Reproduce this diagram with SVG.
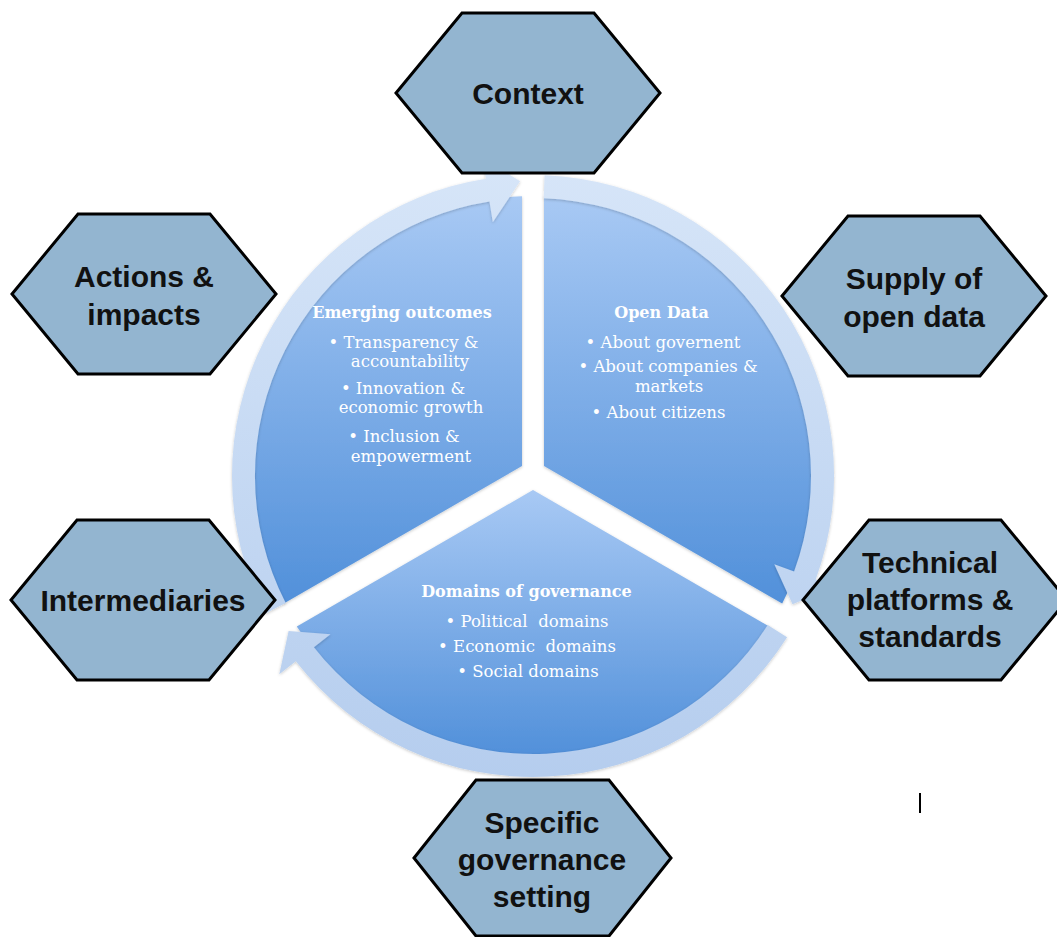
<svg xmlns="http://www.w3.org/2000/svg" width="1057" height="937" viewBox="0 0 1057 937">
  <defs>
    <linearGradient id="secGrad" x1="0" y1="0" x2="0" y2="1">
      <stop offset="0" stop-color="#a8c9f4"/>
      <stop offset="1" stop-color="#5190da"/>
    </linearGradient>
    <linearGradient id="ringGrad" gradientUnits="userSpaceOnUse" x1="0" y1="170" x2="0" y2="780">
      <stop offset="0" stop-color="#d6e5f8"/>
      <stop offset="1" stop-color="#b5cdee"/>
    </linearGradient>
    <filter id="shadow" x="-10%" y="-10%" width="120%" height="120%">
      <feDropShadow dx="0" dy="1" stdDeviation="1.5" flood-color="#000" flood-opacity="0.22"/>
    </filter>
    <style>
      .sector { fill: url(#secGrad); filter: url(#shadow); }
      .arrow { fill: url(#ringGrad); filter: url(#shadow); }
      .hex { fill: #93b5d0; stroke: #000; stroke-width: 3; stroke-linejoin: miter; }
      .hexText { font-family: "Liberation Sans", Arial, sans-serif; font-weight: bold; font-size: 30px; fill: #111; text-anchor: middle; }
      .head { font-family: "DejaVu Serif", "Liberation Serif", serif; font-weight: bold; font-size: 16px; fill: #fff; text-anchor: middle; }
      .item { font-family: "DejaVu Serif", "Liberation Serif", serif; font-size: 16.5px; fill: #fff; text-anchor: middle; }
    </style>
  </defs>
  <rect width="1057" height="937" fill="#fff"/>

  <!-- Cycle segments -->
  <g id="node-emerging-outcomes">
    <path class="sector" d="M522,466 L522,196.2 A280,280 0 0 0 283.8,603.6 Z"/>
  </g>
  <g id="node-open-data">
    <path class="sector" d="M544,466 L544,196.2 A280,280 0 0 1 782.2,603.6 Z"/>
  </g>
  <g id="node-domains-of-governance">
    <path class="sector" d="M533,490 L769.2,626.4 A280,280 0 0 1 296.8,626.4 Z"/>
  </g>

  <!-- Circular arrows -->
  <g id="connectors">
    <path class="arrow" d="M265.3,613.6 A301,301 0 0 1 485.9,178.7 L482.6,158 L520.1,181.3 L492.8,222.2 L489.5,201.4 A278,278 0 0 0 285.7,603.1 Z"/>
    <path class="arrow" d="M544.6,175.2 A301,301 0 0 1 815.7,579.5 L835.4,586.7 L792.5,604.3 L774.3,564.3 L794.1,571.5 A278,278 0 0 0 543.7,198.2 Z"/>
    <path class="arrow" d="M787.1,637.3 A301,301 0 0 1 295.8,661.3 L279.3,674.3 L288.6,631.1 L330.5,634.2 L313.9,647.2 A278,278 0 0 0 767.7,625 Z"/>
  </g>

  <!-- Segment texts -->
  <g id="text-emerging-outcomes">
    <text class="head" x="402" y="318">Emerging outcomes</text>
    <text class="item" x="403.5" y="348">• Transparency &amp;</text>
    <text class="item" x="410" y="367">accountability</text>
    <text class="item" x="403" y="394">• Innovation &amp;</text>
    <text class="item" x="411" y="413">economic growth</text>
    <text class="item" x="404" y="442">• Inclusion &amp;</text>
    <text class="item" x="411" y="462">empowerment</text>
  </g>
  <g id="text-open-data">
    <text class="head" x="661.5" y="318">Open Data</text>
    <text class="item" x="663" y="348">• About governent</text>
    <text class="item" x="668" y="372">• About companies &amp;</text>
    <text class="item" x="669" y="392">markets</text>
    <text class="item" x="658.5" y="418">• About citizens</text>
  </g>
  <g id="text-domains">
    <text class="head" x="526.5" y="597">Domains of governance</text>
    <text class="item" x="527" y="627" xml:space="preserve">• Political  domains</text>
    <text class="item" x="527" y="652" xml:space="preserve">• Economic  domains</text>
    <text class="item" x="528" y="677">• Social domains</text>
  </g>

  <!-- Hexagon nodes -->
  <g id="node-context">
    <polygon class="hex" points="396,93 462,13 594,13 660,93 594,173 462,173"/>
    <text class="hexText" x="528" y="104">Context</text>
  </g>
  <g id="node-actions-impacts">
    <polygon class="hex" points="12,294 78,214 210,214 276,294 210,374 78,374"/>
    <text class="hexText" x="144" y="287">Actions &amp;</text>
    <text class="hexText" x="144" y="325">impacts</text>
  </g>
  <g id="node-supply">
    <polygon class="hex" points="782,296 848,216 980,216 1046,296 980,376 848,376"/>
    <text class="hexText" x="914" y="289">Supply of</text>
    <text class="hexText" x="914" y="327">open data</text>
  </g>
  <g id="node-intermediaries">
    <polygon class="hex" points="11,600 77,520 209,520 275,600 209,680 77,680"/>
    <text class="hexText" x="143" y="611">Intermediaries</text>
  </g>
  <g id="node-technical">
    <polygon class="hex" points="803,600 869,520 1001,520 1067,600 1001,680 869,680"/>
    <text class="hexText" x="930" y="573">Technical</text>
    <text class="hexText" x="930" y="610">platforms &amp;</text>
    <text class="hexText" x="930" y="647">standards</text>
  </g>
  <g id="node-specific-governance">
    <polygon class="hex" points="414,858 476,780 609,780 671,858 609,936 476,936"/>
    <text class="hexText" x="542" y="833">Specific</text>
    <text class="hexText" x="542" y="870">governance</text>
    <text class="hexText" x="542" y="907">setting</text>
  </g>

  <line x1="920" y1="793" x2="920" y2="813" stroke="#000" stroke-width="2"/>
</svg>
